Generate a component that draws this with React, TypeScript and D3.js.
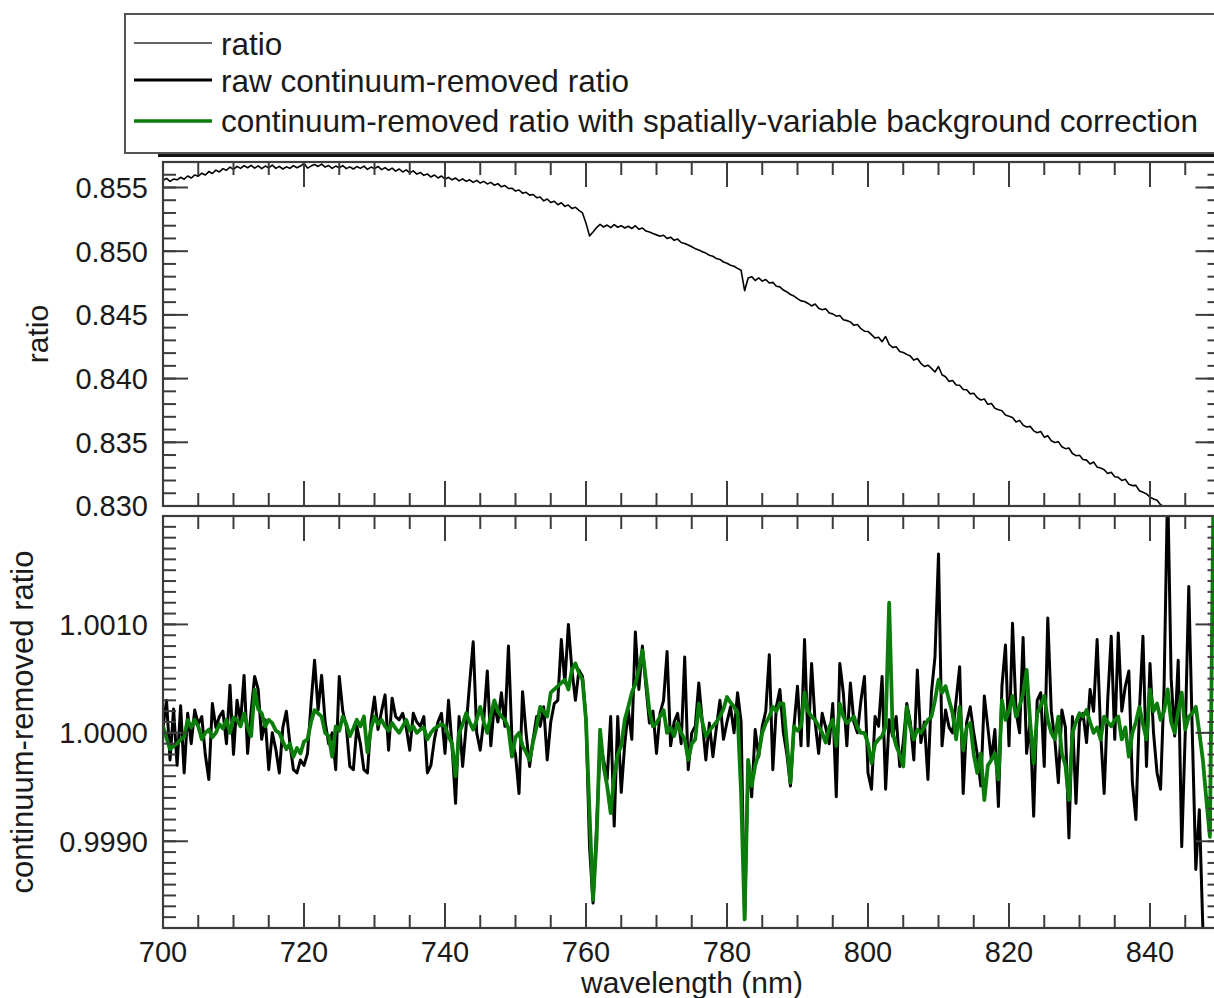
import React from 'react';
import * as d3 from 'd3';

// Sampling grid of the spectra (nm)
const WL_START = 700;
const WL_STEP = 0.5;

// top panel: ratio, in units of 1e-5
const ratioE5 = [
  85555, 85572, 85548, 85566, 85560, 85580, 85565, 85590, 85574, 85598, 85588, 85612, 85598, 85625, 85610, 85636, 85622, 85648, 85635, 85660,
  85642, 85666, 85650, 85672, 85655, 85674, 85652, 85670, 85648, 85668, 85654, 85676, 85650, 85666, 85645, 85662, 85650, 85672, 85655, 85668,
  85690, 85652, 85668, 85680, 85665, 85684, 85660, 85672, 85650, 85668, 85655, 85672, 85648, 85662, 85645, 85664, 85650, 85668, 85642, 85660,
  85648, 85665, 85640, 85656, 85635, 85652, 85628, 85645, 85622, 85638, 85615, 85630, 85605, 85618, 85595, 85606, 85582, 85598, 85575, 85590,
  85565, 85580, 85560, 85574, 85552, 85568, 85548, 85560, 85540, 85556, 85535, 85548, 85528, 85540, 85518, 85530, 85505, 85515, 85492, 85494,
  85472, 85480, 85455, 85462, 85440, 85445, 85420, 85425, 85395, 85410, 85382, 85392, 85365, 85380, 85352, 85362, 85335, 85345, 85320, 85300,
  85220, 85120, 85150, 85185, 85210, 85190, 85205, 85185, 85208, 85188, 85200, 85182, 85196, 85178, 85200, 85172, 85182, 85158, 85150, 85138,
  85128, 85118, 85125, 85100, 85110, 85085, 85095, 85068, 85060, 85048, 85035, 85020, 85010, 84995, 84985, 84968, 84960, 84942, 84935, 84915,
  84905, 84890, 84882, 84865, 84850, 84690, 84790, 84800, 84770, 84790, 84765, 84778, 84750, 84755, 84725, 84720, 84695, 84680, 84660, 84648,
  84628, 84610, 84605, 84590, 84570, 84585, 84552, 84540, 84548, 84515, 84508, 84490, 84495, 84462, 84455, 84445, 84418, 84425, 84392, 84372,
  84370, 84345, 84318, 84325, 84290, 84330, 84268, 84245, 84250, 84212, 84205, 84190, 84178, 84145, 84158, 84120, 84095, 84105, 84080, 84052,
  84095, 84030, 84015, 83978, 83985, 83950, 83948, 83915, 83912, 83880, 83885, 83850, 83832, 83840, 83798, 83805, 83768, 83755, 83748, 83715,
  83705, 83695, 83660, 83672, 83635, 83620, 83625, 83590, 83575, 83585, 83540, 83552, 83512, 83498, 83505, 83465, 83450, 83455, 83412, 83395,
  83398, 83365, 83360, 83330, 83345, 83305, 83298, 83285, 83255, 83265, 83230, 83225, 83200, 83210, 83170, 83160, 83162, 83120, 83108, 83095,
  83070, 83055, 83045, 83010, 82995, 82985, 82960, 82930, 82925, 82900, 82880,
];

// bottom panel: deviation from 1, in units of 1e-5
const rawE5 = [
  5, 30, -25, 22, -30, 25, -37, 18, -10, 21, 8, 15, -20, -43, 27, 5, 15, 20, -10, 44,
  -20, 30, 10, 53, -19, 20, 52, 40, -6, 12, -34, 0, -15, -37, 5, 20, -10, -34, -37, -25,
  -30, -19, 27, 67, 21, 53, 10, -10, 0, -34, 52, 20, 6, -31, -34, 6, -10, -34, -37, 10,
  33, 3, 20, 35, -16, 32, 15, 12, 18, 5, -16, 18, 10, 6, 15, -37, -30, -6, 10, 18,
  -19, 30, -12, -65, 15, -31, 6, 46, 84, 0, -16, 12, 57, -12, 27, 10, 37, 6, 80, -6,
  -20, -56, 38, 0, -31, -6, 15, 6, 24, -25, 10, 27, 30, 86, 46, 100, 58, 30, 58, 52,
  12, -105, -157, -86, -12, -25, -43, 15, -86, 15, -55, -10, 21, -6, 93, 40, 80, 43, 9, 20,
  -19, 18, 30, 75, -12, 10, 18, -10, 70, -34, 0, 6, 46, 10, -25, 9, -22, 5, 30, -6,
  10, 24, 0, 37, 10, -172, -25, -59, 3, -22, 6, 20, 72, -34, 24, 40, 0, -20, -49, 6,
  43, -12, 86, -12, 64, 10, -19, 18, 5, -10, 27, -59, 64, 37, -12, 46, 10, 0, 30, 52,
  -37, -52, 15, 6, 52, -52, 12, -3, 15, -31, -9, 27, 10, -25, 58, -9, 10, -43, 37, 70,
  165, -12, 21, 5, 0, 30, 61, -56, 10, 24, 0, -20, -49, 34, 5, -25, 3, -68, 43, 81,
  -12, 101, 20, 0, 88, -19, 10, -77, 30, 37, -31, 106, 20, -6, -46, 21, 5, -97, 15, -65,
  10, 18, -9, 40, 20, 86, 0, -56, 30, 89, -6, 92, 20, 43, 57, -46, -80, 20, 89, -31,
  64, 0, -37, -52, 43, 230, 50, -3, 67, -105, 0, 135, 0, -126, -71, -181, -260, -240, -300, -280,
  -300,
];

const corrE5 = [
  6, -5, -15, -12, -10, -6, -4, 12, 5, 12, 6, -6, 0, 3, -4, 0, 8, 4, 12, 0,
  14, 12, 6, 18, 5, -3, 40, 22, 18, 6, 12, 9, 2, 0, -8, -15, -10, -22, -14, -19,
  -8, -6, 10, 21, 18, 15, 0, -3, -22, 6, 2, 15, 8, -3, 4, 12, 6, 15, -18, 4,
  15, 8, 12, 6, 2, 9, 4, 0, 6, 12, 2, 6, 0, 3, 5, -6, 0, 4, 6, 8,
  6, -3, -10, -40, 0, 8, 18, 10, 3, 12, 24, 10, 0, 16, 30, 20, 15, 12, 4, -22,
  -4, 0, -12, -18, -25, -8, 6, 24, 20, 15, 37, 40, 43, 46, 49, 40, 58, 64, 55, 49,
  12, -74, -154, -99, 3, -31, -49, -74, -40, -20, -12, 12, 24, 37, 45, 58, 76, 49, 20, 6,
  9, 15, 21, 0, 5, -3, 9, 0, -6, -25, -10, -6, 27, 10, -3, 2, 6, 10, 15, 22,
  33, 28, 24, 18, -56, -172, -25, -49, -30, -19, 0, 9, 15, 24, 20, 27, 27, -10, -46, 6,
  2, 6, 37, 20, 15, 12, 6, 0, -9, 5, 12, -12, 27, 15, 9, 12, 15, 5, 0, 0,
  -10, -28, -10, -6, -3, 6, 120, 0, -12, -20, -31, 24, 5, -6, 3, 0, 6, 12, 15, 30,
  49, 37, 43, 30, 18, -6, 24, -16, 5, 9, -20, -37, -19, -62, -30, -25, -19, -43, 30, 12,
  20, 34, 15, 25, 36, 58, 10, -28, 18, 25, 34, 12, 0, -6, 15, -19, -30, -62, 0, 10,
  18, 15, 21, 10, 0, 5, -6, 15, 10, 6, 12, 15, -6, 5, -22, 0, 10, 24, 8, -6,
  40, 20, 27, 12, 20, 40, 10, 0, 20, 37, 3, 15, 18, 24, 0, -25, -62, -96, 220, 230,
  230,
];

const xMajorTicks = [700, 720, 740, 760, 780, 800, 820, 840];
const topYTicks = [0.83, 0.835, 0.84, 0.845, 0.85, 0.855];
const botYTicks = [0.999, 1.0, 1.001];
const legendLabels = [
  'ratio',
  'raw continuum-removed ratio',
  'continuum-removed ratio with spatially-variable background correction',
];
const xLabel = 'wavelength (nm)';
const topYLabel = 'ratio';
const botYLabel = 'continuum-removed ratio';

const W = 1214;
const H = 998;
const FONT = '"Liberation Sans", Arial, Helvetica, sans-serif';
const FRAME = '#3c3c3c';
const GREEN = '#0a7d0a';
const TXT = '#1a1a1a';

const PL = 163;
const PR = 1220.5;
const TOP = { y0: 162, y1: 506 };
const BOT = { y0: 516, y1: 928 };

const x = d3.scaleLinear().domain([700, 850]).range([PL, PR]);
const yTop = d3.scaleLinear().domain([0.83, 0.857]).range([TOP.y1, TOP.y0]);
const yBot = d3.scaleLinear().domain([0.9982, 1.002]).range([BOT.y1, BOT.y0]);

const wl = (i: number) => WL_START + i * WL_STEP;

const ratioPts: [number, number][] = ratioE5.map((v, i) => [wl(i), v / 1e5]);
const rawPts: [number, number][] = rawE5.map((v, i) => [wl(i), 1 + v / 1e5]);
const corrPts: [number, number][] = corrE5.map((v, i) => [wl(i), 1 + v / 1e5]);

const lineTop = d3.line<[number, number]>().x((d) => x(d[0])).y((d) => yTop(d[1]));
const lineBot = d3.line<[number, number]>().x((d) => x(d[0])).y((d) => yBot(d[1]));

const xMinor = d3.range(700, 851, 5).filter((v) => !xMajorTicks.includes(v));
const topMinor = d3.range(0, 28).map((i) => 0.83 + i * 0.001);
const botMinor = d3.range(0, 39).map((i) => 0.9982 + i * 0.0001);

const MAJ = 25;
const MIN = 13;

function Panel({ y0, y1, yScale, yMajor, yMinor, fmt, showXLabels }: any) {
  const ticks: any[] = [];
  let k = 0;
  xMajorTicks.forEach((v) => {
    const px = x(v);
    ticks.push(<line key={k++} x1={px} x2={px} y1={y0} y2={y0 + MAJ} />);
    ticks.push(<line key={k++} x1={px} x2={px} y1={y1} y2={y1 - MAJ} />);
  });
  xMinor.forEach((v) => {
    const px = x(v);
    ticks.push(<line key={k++} x1={px} x2={px} y1={y0} y2={y0 + MIN} />);
    ticks.push(<line key={k++} x1={px} x2={px} y1={y1} y2={y1 - MIN} />);
  });
  yMinor.forEach((v: number) => {
    const py = yScale(v);
    if (py < y0 + 0.5 || py > y1 - 0.5) return;
    ticks.push(<line key={k++} x1={PL} x2={PL + MIN} y1={py} y2={py} />);
    ticks.push(<line key={k++} x1={PR} x2={PR - MIN} y1={py} y2={py} />);
  });
  yMajor.forEach((v: number) => {
    const py = yScale(v);
    ticks.push(<line key={k++} x1={PL} x2={PL + MAJ} y1={py} y2={py} />);
    ticks.push(<line key={k++} x1={PR} x2={PR - MAJ} y1={py} y2={py} />);
  });
  return (
    <g>
      <g stroke={FRAME} strokeWidth={2}>{ticks}</g>
      <rect x={PL} y={y0} width={PR - PL} height={y1 - y0} fill="none" stroke={FRAME} strokeWidth={2.2} />
      <g fontFamily={FONT} fontSize={29} fill={TXT} textAnchor="end">
        {yMajor.map((v: number, i: number) => (
          <text key={i} x={148} y={yScale(v)} dy="0.36em">{fmt(v)}</text>
        ))}
      </g>
      {showXLabels && (
        <g fontFamily={FONT} fontSize={29} fill={TXT} textAnchor="middle">
          {xMajorTicks.map((v) => (
            <text key={v} x={x(v)} y={962}>{v}</text>
          ))}
        </g>
      )}
    </g>
  );
}

export default function App() {
  const fTop = d3.format('.3f');
  const fBot = d3.format('.4f');
  const legendLineY = [43, 80, 121];
  const legendTextY = [55, 92, 132];
  return (
    <svg width={W} height={H} style={{ position: 'absolute', left: 0, top: 0, background: '#fff' }}>
      <rect x={0} y={0} width={W} height={H} fill="#fff" />
      <defs>
        <clipPath id="clipTop"><rect x={PL} y={TOP.y0} width={PR - PL} height={TOP.y1 - TOP.y0} /></clipPath>
        <clipPath id="clipBot"><rect x={PL} y={BOT.y0} width={PR - PL} height={BOT.y1 - BOT.y0} /></clipPath>
      </defs>

      <g clipPath="url(#clipTop)">
        <path d={lineTop(ratioPts) || ''} fill="none" stroke="#000" strokeWidth={1.6} strokeLinejoin="round" />
      </g>
      <g clipPath="url(#clipBot)">
        <path d={lineBot(rawPts) || ''} fill="none" stroke="#000" strokeWidth={3} strokeLinejoin="round" />
        <path d={lineBot(corrPts) || ''} fill="none" stroke={GREEN} strokeWidth={3.8} strokeLinejoin="round" />
      </g>

      <Panel y0={TOP.y0} y1={TOP.y1} yScale={yTop} yMajor={topYTicks} yMinor={topMinor} fmt={fTop} showXLabels={false} />
      <Panel y0={BOT.y0} y1={BOT.y1} yScale={yBot} yMajor={botYTicks} yMinor={botMinor} fmt={fBot} showXLabels={true} />

      <g fontFamily={FONT} fontSize={30} fill={TXT} textAnchor="middle">
        <text x={692} y={993}>{xLabel}</text>
        <text transform={`translate(48,${(TOP.y0 + TOP.y1) / 2}) rotate(-90)`}>{topYLabel}</text>
        <text fontSize={31} transform={`translate(33,${(BOT.y0 + BOT.y1) / 2}) rotate(-90)`}>{botYLabel}</text>
      </g>

      {/* legend */}
      <rect x={158} y={151.5} width={1100} height={5.5} fill="#151515" />
      <rect x={125} y={14} width={1150} height={139} fill="#fff" stroke="#555" strokeWidth={2} />
      <line x1={134} x2={212} y1={legendLineY[0]} y2={legendLineY[0]} stroke="#333" strokeWidth={1.4} />
      <line x1={134} x2={212} y1={legendLineY[1]} y2={legendLineY[1]} stroke="#000" strokeWidth={2.8} />
      <line x1={134} x2={212} y1={legendLineY[2]} y2={legendLineY[2]} stroke={GREEN} strokeWidth={3.4} />
      <g fontFamily={FONT} fontSize={31.5} fill={TXT}>
        {legendLabels.map((t, i) => (
          <text key={i} x={221} y={legendTextY[i]}>{t}</text>
        ))}
      </g>
    </svg>
  );
}
